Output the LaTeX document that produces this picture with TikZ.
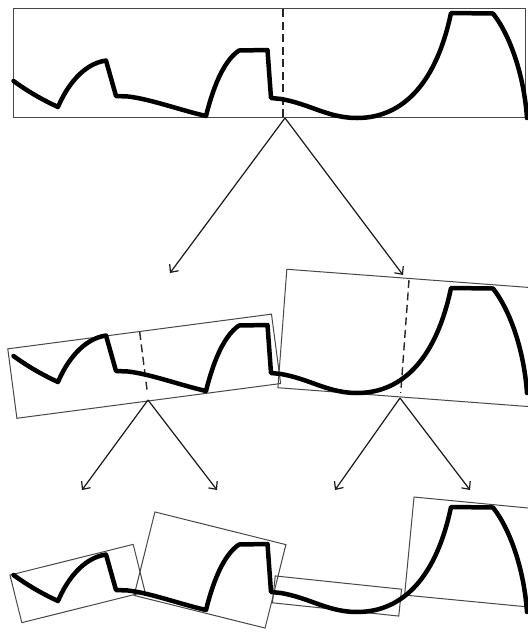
\documentclass[tikz,border=0pt]{standalone}
\usetikzlibrary{arrows.meta}
\tikzset{
  panel/.style={draw=black!72, line width=1pt, inner sep=0pt, outer sep=0pt},
  wave/.style={line width=4.5pt, line join=round, line cap=round},
  cut/.style={line width=1.4pt, dash pattern=on 8pt off 4.5pt, black!85},
  split/.style={line width=1.2pt, black!90, -{Straight Barb[length=6pt,width=11pt]}},
}
\def\wavepath{(13.5,81) .. controls (30,93) and (45,101) .. (58,107)
  .. controls (66,88) and (82,64) .. (106,60.5) -- (116,96) -- (128,96.5)
  .. controls (150,99) and (180,110) .. (206,116)
  .. controls (212,92) and (222,62) .. (239,50.5) -- (267.5,50) -- (271,98) -- (281,99)
  .. controls (310,104) and (328,118) .. (357,118)
  .. controls (405,118) and (437,80) .. (451,13) -- (493,13.5)
  .. controls (510,35) and (524,75) .. (527,118)}
\begin{document}
\begin{tikzpicture}[x=1pt,y=-1pt]
\useasboundingbox (0,0) rectangle (528,633);
\fill[white] (0,0) rectangle (528,633);
\clip (0,0) rectangle (528,633);

% panels
\node[panel, minimum width=511.5pt, minimum height=108.5pt] (top) at (269.5,63) {};
\node[panel, minimum width=266pt, minimum height=70pt, rotate=7.5] (midL) at (144.2,366.2) {};
\node[panel, minimum width=262pt, minimum height=118.8pt, rotate=-4.3] (midR) at (413,338.3) {};
\node[panel, minimum width=127pt, minimum height=49pt, rotate=14] (botA) at (77.5,583.5) {};
\node[panel, minimum width=135pt, minimum height=86pt, rotate=-14] (botB) at (210,570) {};
\node[panel, minimum width=127pt, minimum height=27pt, rotate=-6] (botC) at (337,596) {};
\node[panel, minimum width=137pt, minimum height=98.5pt, rotate=-5.5] (botD) at (477.5,552.6) {};

% cut lines
\draw[cut] (283,9) -- (283,117);
\draw[cut] (139.7,332) -- (147,389.6);
\draw[cut] (409,280) -- (400.7,393);

% signal curves
\draw[wave] \wavepath;
\draw[wave, shift={(0,275)}] \wavepath;
\draw[wave, shift={(0,494)}] \wavepath;

% arrow anchor points
\coordinate (s0) at (285,118);
\coordinate (t1) at (170,273);
\coordinate (t2) at (403,275);
\coordinate (s1) at (148,400);
\coordinate (u1) at (82,490);
\coordinate (u2) at (217,490);
\coordinate (s2) at (400,398);
\coordinate (u3) at (335,490);
\coordinate (u4) at (470,490);

\draw[split] (s0) -- (t1);
\draw[split] (s0) -- (t2);
\draw[split] (s1) -- (u1);
\draw[split] (s1) -- (u2);
\draw[split] (s2) -- (u3);
\draw[split] (s2) -- (u4);
\end{tikzpicture}
\end{document}
